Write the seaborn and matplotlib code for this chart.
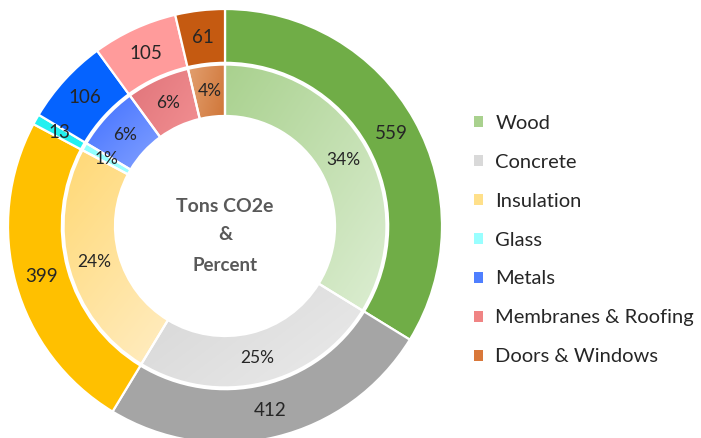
import numpy as np
import matplotlib
matplotlib.use("Agg")
import matplotlib.pyplot as plt
import matplotlib.colors as mcolors
from matplotlib.patches import Patch
import seaborn as sns

# ---- data ----
categories = ["Wood", "Concrete", "Insulation", "Glass", "Metals",
              "Membranes & Roofing", "Doors & Windows"]
tons = [559, 412, 399, 13, 106, 105, 61]
percent_labels = ["34%", "25%", "24%", "1%", "6%", "6%", "4%"]

outer_colors = ["#70AD47", "#A5A5A5", "#FFC000", "#22F0F0", "#0563FF", "#FF9B9B", "#C55A11"]
inner_dark = ["#A9D18E", "#D2D2D2", "#FFD873", "#8CFFFF", "#3F6FFF", "#E0747A", "#E3A070"]
inner_light = ["#DDEED3", "#EBEBEB", "#FFF1D3", "#C8FFFF", "#BCCBFF", "#FFA3A3", "#C55F1A"]
legend_colors = ["#A9D18E", "#D9D9D9", "#FFE08A", "#99FFFF", "#4F7FFF", "#F08484", "#D9783A"]

sns.set_theme(style="white")
plt.rcParams["font.family"] = ["Lato", "DejaVu Sans"]

W, H = 701, 438
fig = plt.figure(figsize=(W / 100, H / 100), dpi=100)
cx, cy, R = 225, 226, 217
ax = fig.add_axes([(cx - R) / W, (H - cy - R) / H, 2 * R / W, 2 * R / H])

r_out_in = 0.752
r_in_out = 0.744
r_in_in = 0.507

outer, _ = ax.pie(tons, radius=1.0, startangle=90, counterclock=False,
                  colors=outer_colors,
                  wedgeprops=dict(width=1.0 - r_out_in, edgecolor="white", linewidth=1.6))
inner, _ = ax.pie(tons, radius=r_in_out, startangle=90, counterclock=False,
                  colors=inner_dark,
                  wedgeprops=dict(width=r_in_out - r_in_in, edgecolor="white", linewidth=1.6))


def grad_fill(wedge, c1, c2):
    verts = wedge.get_path().vertices
    x0, y0 = verts.min(0)
    x1, y1 = verts.max(0)
    n = 200
    X, Y = np.meshgrid(np.linspace(0, 1, n), np.linspace(0, 1, n))
    t = ((X + (1 - Y)) / 2)[..., None]
    a = np.array(mcolors.to_rgb(c1))
    b = np.array(mcolors.to_rgb(c2))
    arr = a * (1 - t) + b * t
    im = ax.imshow(arr, extent=(x0, x1, y0, y1), origin="lower",
                   interpolation="bilinear", aspect="auto", zorder=1)
    im.set_clip_path(wedge)
    wedge.set_facecolor("none")
    wedge.set_zorder(2)


for w, c1, c2 in zip(inner, inner_dark, inner_light):
    grad_fill(w, c1, c2)
for w in outer:
    w.set_zorder(2)

txt_color = "#262626"
r_lab_out = (1.0 + r_out_in) / 2
r_lab_in = (r_in_out + r_in_in) / 2
for w, v in zip(outer, tons):
    th = np.deg2rad((w.theta1 + w.theta2) / 2)
    ax.text(r_lab_out * np.cos(th), r_lab_out * np.sin(th), str(v),
            ha="center", va="center", fontsize=13.5, color=txt_color, zorder=5)
for w, p in zip(inner, percent_labels):
    th = np.deg2rad((w.theta1 + w.theta2) / 2)
    ax.text(r_lab_in * np.cos(th), r_lab_in * np.sin(th), p,
            ha="center", va="center", fontsize=12.5, color=txt_color, zorder=5)

center_color = "#595959"
ax.text(0, 0.088, "Tons CO2e", ha="center", va="center", fontsize=14,
        fontweight="bold", color=center_color)
ax.text(0, -0.04, "&", ha="center", va="center", fontsize=14,
        fontweight="bold", color=center_color)
ax.text(0, -0.18, "Percent", ha="center", va="center", fontsize=13.5,
        fontweight="bold", color=center_color)

ax.set_xlim(-1, 1)
ax.set_ylim(-1, 1)
ax.set_aspect("equal")
ax.axis("off")

handles = [Patch(facecolor=c, edgecolor="none") for c in legend_colors]
fig.legend(handles, categories, loc="center left",
           bbox_to_anchor=(456 / W, 1 - 240 / H), frameon=False,
           fontsize=14.5, handlelength=0.45, handleheight=0.45,
           handletextpad=0.6, labelspacing=1.09, labelcolor="#262626")

fig.savefig("out.png", dpi=100, facecolor="white")
